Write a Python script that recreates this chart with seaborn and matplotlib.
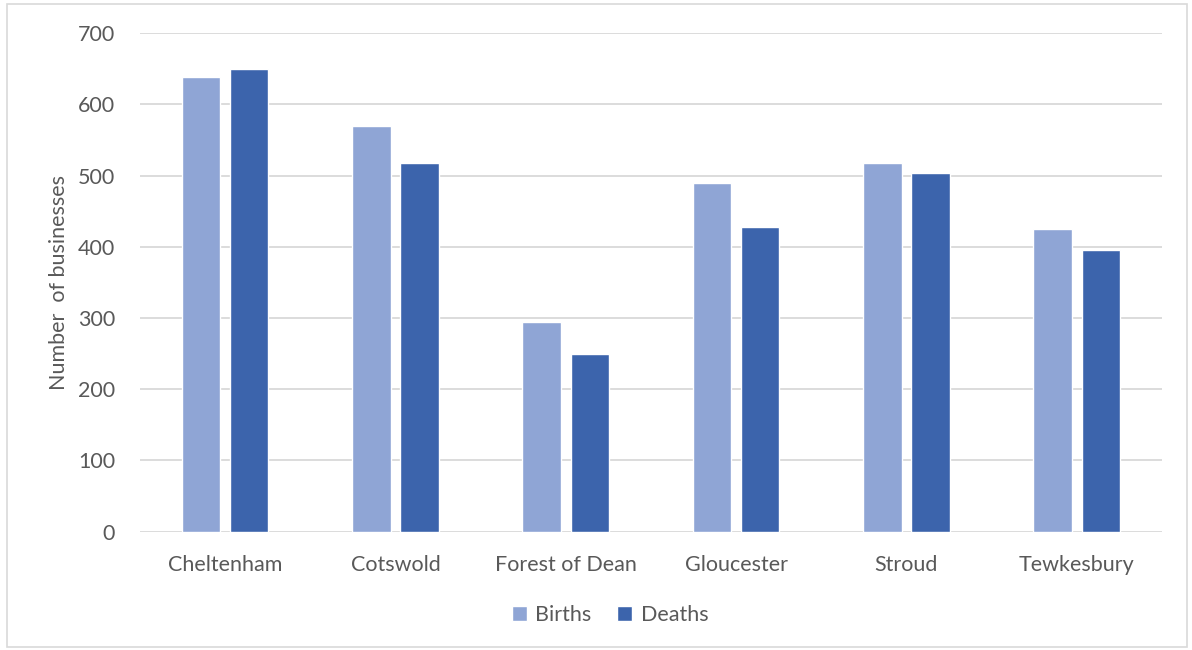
import matplotlib
matplotlib.use("Agg")
import matplotlib.pyplot as plt
from matplotlib.patches import Rectangle
import seaborn as sns
import pandas as pd

districts = ["Cheltenham", "Cotswold", "Forest of Dean", "Gloucester", "Stroud", "Tewkesbury"]
births = [639, 569, 294, 490, 518, 425]
deaths = [650, 518, 249, 428, 504, 395]

df = pd.DataFrame({"District": districts, "Births": births, "Deaths": deaths})
df_long = df.melt(id_vars="District", var_name="Type", value_name="Count")

sns.set_style("white")
plt.rcParams["font.family"] = ["Lato", "DejaVu Sans"]
text_col = "#595959"
fs = 15.5

fig = plt.figure(figsize=(11.92, 6.5), dpi=100)
ax = fig.add_axes([0.1174, 0.182, 0.8574, 0.767])

sns.barplot(data=df_long, x="District", y="Count", hue="Type",
            palette={"Births": "#8FA5D5", "Deaths": "#3C64AC"},
            width=0.565, gap=0.2, saturation=1, ax=ax, zorder=3)

ax.set_ylim(0, 700)
ax.set_xlim(-0.5, 5.5)
ax.set_yticks(range(0, 701, 100))
ax.yaxis.grid(True, color="#D9D9D9", linewidth=1.3, zorder=0)
ax.set_axisbelow(True)
for s in ax.spines.values():
    s.set_visible(False)
ax.tick_params(axis="both", length=0, labelsize=fs, colors=text_col)
ax.tick_params(axis="y", pad=18)
ax.tick_params(axis="x", pad=17)
ax.set_xlabel("")
ax.set_ylabel("Number  of businesses", fontsize=fs, color=text_col, labelpad=6)

leg = ax.legend(loc="center", bbox_to_anchor=(0.46, -0.168), ncol=2, frameon=False,
                fontsize=fs, handlelength=0.7, handleheight=0.7, handletextpad=0.4,
                columnspacing=1.2)
for t in leg.get_texts():
    t.set_color(text_col)

fig.patches.append(Rectangle((0.006, 0.004), 0.99, 0.99, transform=fig.transFigure,
                             fill=False, edgecolor="#D9D9D9", linewidth=1.2))

fig.savefig("out.png", dpi=100)
